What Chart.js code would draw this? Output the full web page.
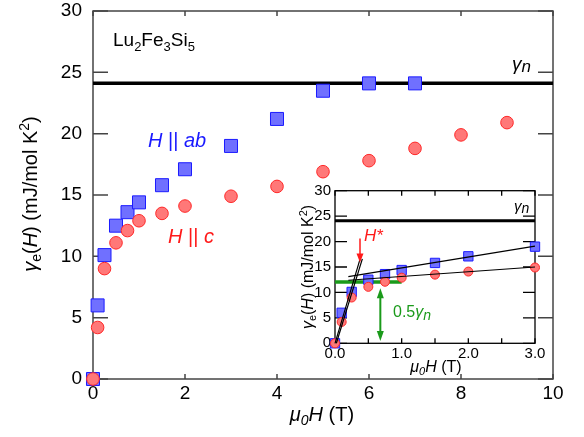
<!DOCTYPE html>
<html><head><meta charset="utf-8">
<script src="https://cdn.jsdelivr.net/npm/chart.js@4"></script>
<style>
html,body{margin:0;padding:0;background:#fff;}
#wrap{position:relative;width:584px;height:437px;overflow:hidden;}
canvas{position:absolute;}
</style>
</head><body>
<div id="wrap">
<canvas id="main" width="584" height="437" style="left:0;top:0"></canvas>
<canvas id="inset" width="280" height="215" style="left:275px;top:168px"></canvas>
</div>
<script>
// ---------- data ----------
const fieldAB = [0, 0.1, 0.25, 0.5, 0.75, 1, 1.5, 2, 3, 4, 5, 6, 7];
const gammaAB = [0, 6.0, 10.1, 12.5, 13.6, 14.4, 15.8, 17.1, 19.0, 21.2, 23.5, 24.1, 24.1];
const fieldC  = [0, 0.1, 0.25, 0.5, 0.75, 1, 1.5, 2, 3, 4, 5, 6, 7, 8, 9];
const gammaC  = [0, 4.2, 9.0, 11.1, 12.1, 12.9, 13.5, 14.1, 14.9, 15.7, 16.9, 17.8, 18.8, 19.9, 20.9];
const gammaN = 24.1;
const mainXTicks = [0, 2, 4, 6, 8, 10];
const mainYTicks = [0, 5, 10, 15, 20, 25, 30];
const insetXMax = 3;
const insetXTicks = [0, 1, 2, 3];
const insetXMinorTicks = [0, 0.5, 1, 1.5, 2, 2.5, 3];
const insetYTicks = [0, 5, 10, 15, 20, 25, 30];
const fitABLow  = [[0, 0], [0.39, 17.2]];
const fitCLow   = [[0.02, 0], [0.41, 16.6]];
const fitABHigh = [[0.2, 13.1], [3, 19.1]];
const fitCHigh  = [[0.2, 12.4], [3, 15.0]];
const halfGammaLine = [[0, 12.05], [1, 12.05]];
const hStarArrow = [[0.375, 20.6], [0.375, 15.9]];
const halfArrow  = [[0.68, 10.8], [0.68, 0.45]];

// ---------- helpers ----------
const FAM = '"Liberation Sans", Arial, sans-serif';
const BLUE_FILL = 'rgba(112,112,255,1)', BLUE_LINE = '#1c1cff';
const RED_FILL = '#ff7878', RED_LINE = '#ff2828';
const pts = (xs, ys) => xs.map((x, i) => ({x, y: ys[i]}));
const seg = a => a.map(p => ({x: p[0], y: p[1]}));

function richText(ctx, segs, x, y, align) {
  let w = 0;
  segs.forEach(s => { ctx.font = (s.italic ? 'italic ' : '') + s.size + 'px ' + FAM; s.w = ctx.measureText(s.t).width; w += s.w; });
  let cx = align === 'center' ? x - w / 2 : (align === 'right' ? x - w : x);
  ctx.textBaseline = 'alphabetic'; ctx.textAlign = 'left';
  segs.forEach(s => {
    ctx.font = (s.italic ? 'italic ' : '') + s.size + 'px ' + FAM;
    ctx.fillStyle = s.color || '#000';
    ctx.fillText(s.t, cx, y + (s.dy || 0));
    cx += s.w;
  });
}

function frameTicks(chart, xs, ys, xLen, yLen, color, lw) {
  const {ctx, chartArea: a, scales: {x, y}} = chart;
  ctx.save();
  ctx.strokeStyle = color; ctx.lineWidth = lw;
  ctx.beginPath();
  xs.forEach(v => { const p = x.getPixelForValue(v);
    ctx.moveTo(p, a.bottom); ctx.lineTo(p, a.bottom - xLen);
    ctx.moveTo(p, a.top); ctx.lineTo(p, a.top + xLen); });
  ys.forEach(v => { const p = y.getPixelForValue(v);
    ctx.moveTo(a.left, p); ctx.lineTo(a.left + yLen, p);
    ctx.moveTo(a.right, p); ctx.lineTo(a.right - yLen, p); });
  ctx.stroke();
  ctx.strokeRect(a.left, a.top, a.right - a.left, a.bottom - a.top);
  ctx.restore();
}

function arrow(ctx, x1, y1, x2, y2, color, lw, hw, hl, both) {
  ctx.save();
  ctx.strokeStyle = color; ctx.fillStyle = color; ctx.lineWidth = lw;
  const dir = Math.sign(y2 - y1);
  ctx.beginPath();
  ctx.moveTo(x1, y1 + (both ? dir * hl * 0.8 : 0));
  ctx.lineTo(x2, y2 - dir * hl * 0.8);
  ctx.stroke();
  const head = (x, y, d) => { ctx.beginPath(); ctx.moveTo(x, y); ctx.lineTo(x - hw / 2, y - d * hl); ctx.lineTo(x + hw / 2, y - d * hl); ctx.closePath(); ctx.fill(); };
  head(x2, y2, dir);
  if (both) head(x1, y1, -dir);
  ctx.restore();
}

const baseScale = (min, max, ticksArr, size, pad, fit, isX) => ({
  type: 'linear', min, max,
  afterBuildTicks(s) { s.ticks = ticksArr.map(v => ({value: v})); },
  afterFit(s) {
    if (isX) { s.height = fit; s.paddingLeft = 0; s.paddingRight = 0; }
    else { s.width = fit; s.paddingTop = 0; s.paddingBottom = 0; }
  },
  grid: {display: false, drawTicks: false},
  border: {display: false},
  ticks: {font: {family: FAM, size, lineHeight: 1}, color: '#000', padding: pad, maxRotation: 0, autoSkip: false}
});

// ---------- main chart ----------
const mainDecor = {
  id: 'mainDecor',
  beforeDatasetsDraw(chart) {
    frameTicks(chart, mainXTicks, mainYTicks, 5, 15, '#444', 1.5);
  },
  afterDraw(chart) {
    const ctx = chart.ctx;
    ctx.save();
    richText(ctx, [{t: 'μ', size: 20, italic: true}, {t: '0', size: 14, italic: true, dy: 4},
      {t: 'H', size: 20, italic: true}, {t: ' (T)', size: 20}], 322, 421, 'center');
    ctx.translate(37, 194); ctx.rotate(-Math.PI / 2);
    richText(ctx, [{t: 'γ', size: 20, italic: true}, {t: 'e', size: 14, dy: 4},
      {t: '(', size: 20}, {t: 'H', size: 20, italic: true}, {t: ') (mJ/mol K', size: 20},
      {t: '2', size: 14, dy: -8}, {t: ')', size: 20}], 0, 0, 'center');
    ctx.restore();
    ctx.save();
    richText(ctx, [{t: 'Lu', size: 19}, {t: '2', size: 13, dy: 5}, {t: 'Fe', size: 19},
      {t: '3', size: 13, dy: 5}, {t: 'Si', size: 19}, {t: '5', size: 13, dy: 5}], 113, 46, 'left');
    richText(ctx, [{t: 'γ', size: 19, italic: true}, {t: 'n', size: 17, italic: true, dy: 2}], 512, 70, 'left');
    richText(ctx, [{t: 'H', size: 20, italic: true, color: '#1a1aff'}, {t: ' || ', size: 20, color: '#1a1aff'},
      {t: 'ab', size: 20, italic: true, color: '#1a1aff'}], 148, 147, 'left');
    richText(ctx, [{t: 'H', size: 20, italic: true, color: '#ff1a1a'}, {t: ' || ', size: 20, color: '#ff1a1a'},
      {t: 'c', size: 20, italic: true, color: '#ff1a1a'}], 168, 243, 'left');
    ctx.restore();
  }
};

new Chart(document.getElementById('main'), {
  type: 'scatter',
  data: {datasets: [
    {data: pts(fieldC, gammaC), pointStyle: 'circle', pointRadius: 6.3, borderWidth: 1,
     backgroundColor: RED_FILL, borderColor: RED_LINE, order: 0, clip: false},
    {data: pts(fieldAB, gammaAB), pointStyle: 'rect', pointRadius: 9.2, borderWidth: 1,
     backgroundColor: BLUE_FILL, borderColor: BLUE_LINE, order: 1, clip: false},
    {data: seg([[0, gammaN], [10, gammaN]]), showLine: true, pointRadius: 0, borderColor: '#000', borderWidth: 3.5, order: 2}
  ]},
  options: {
    responsive: false, animation: false, events: [],
    plugins: {legend: {display: false}, tooltip: {enabled: false}},
    layout: {padding: {top: 11, right: 31, left: 0, bottom: 0}},
    scales: {
      x: baseScale(0, 10, mainXTicks, 19, 5, 58, true),
      y: baseScale(0, 30, mainYTicks, 19, 11, 93, false)
    }
  },
  plugins: [mainDecor]
});

// ---------- inset chart ----------
const insetDecor = {
  id: 'insetDecor',
  beforeDatasetsDraw(chart) {
    frameTicks(chart, insetXMinorTicks, insetYTicks, 5, 12, '#000', 1.3);
  },
  afterDatasetsDraw(chart) {
    const {ctx, scales: {x, y}} = chart;
    arrow(ctx, x.getPixelForValue(hStarArrow[0][0]), y.getPixelForValue(hStarArrow[0][1]),
      x.getPixelForValue(hStarArrow[1][0]), y.getPixelForValue(hStarArrow[1][1]), '#ff1a1a', 1.5, 7, 9, false);
    arrow(ctx, x.getPixelForValue(halfArrow[0][0]), y.getPixelForValue(halfArrow[0][1]),
      x.getPixelForValue(halfArrow[1][0]), y.getPixelForValue(halfArrow[1][1]), '#1a9a1a', 2, 7, 10, true);
  },
  afterDraw(chart) {
    const ctx = chart.ctx;
    ctx.save();
    richText(ctx, [{t: 'μ', size: 16, italic: true}, {t: '0', size: 11, italic: true, dy: 3},
      {t: 'H', size: 16, italic: true}, {t: ' (T)', size: 16}], 436 - 275, 372 - 168, 'center');
    richText(ctx, [{t: 'γ', size: 15, italic: true}, {t: 'n', size: 14, italic: true, dy: 2}], 514 - 275, 211 - 168, 'left');
    richText(ctx, [{t: 'H*', size: 17, italic: true, color: '#ff1a1a'}], 364 - 275, 241 - 168, 'left');
    richText(ctx, [{t: '0.5', size: 16, color: '#1a9a1a'}, {t: 'γ', size: 16, italic: true, color: '#1a9a1a'},
      {t: 'n', size: 14, italic: true, color: '#1a9a1a', dy: 3}], 393 - 275, 317 - 168, 'left');
    ctx.translate(313 - 275, 267 - 168); ctx.rotate(-Math.PI / 2);
    richText(ctx, [{t: 'γ', size: 16, italic: true}, {t: 'e', size: 11, dy: 3},
      {t: '(', size: 16}, {t: 'H', size: 16, italic: true}, {t: ') (mJ/mol K', size: 16},
      {t: '2', size: 11, dy: -6}, {t: ')', size: 16}], 0, 0, 'center');
    ctx.restore();
  }
};

const insetAB = fieldAB.map((x, i) => ({x, y: gammaAB[i]})).filter(p => p.x <= insetXMax);
const insetC = fieldC.map((x, i) => ({x, y: gammaC[i]})).filter(p => p.x <= insetXMax);
const fitLine = (a, o) => ({data: seg(a), showLine: true, pointRadius: 0, borderColor: '#000', borderWidth: 1.2, order: o, clip: false});

new Chart(document.getElementById('inset'), {
  type: 'scatter',
  data: {datasets: [
    fitLine(fitABLow, 0), fitLine(fitCLow, 0), fitLine(fitABHigh, 0), fitLine(fitCHigh, 0),
    {data: insetC, pointStyle: 'circle', pointRadius: 4.5, borderWidth: 1,
     backgroundColor: RED_FILL, borderColor: RED_LINE, order: 1, clip: false},
    {data: insetAB, pointStyle: 'rect', pointRadius: 6.6, borderWidth: 1,
     backgroundColor: BLUE_FILL, borderColor: BLUE_LINE, order: 2, clip: false},
    {data: seg(halfGammaLine), showLine: true, pointRadius: 0, borderColor: '#1a9a1a', borderWidth: 3.5, order: 3},
    {data: seg([[0, gammaN], [insetXMax, gammaN]]), showLine: true, pointRadius: 0, borderColor: '#000', borderWidth: 3, order: 4}
  ]},
  options: {
    responsive: false, animation: false, events: [],
    plugins: {legend: {display: false}, tooltip: {enabled: false}},
    layout: {padding: {top: 22.7, right: 20, left: 0, bottom: 0}},
    scales: {
      x: Object.assign(baseScale(0, insetXMax, insetXTicks, 15, 3, 39.7, true),
        {ticks: {font: {family: FAM, size: 15, lineHeight: 1}, color: '#000', padding: 3, maxRotation: 0, autoSkip: false,
          callback: v => v.toFixed(1)}}),
      y: baseScale(0, 30, insetYTicks, 15, 4, 60, false)
    }
  },
  plugins: [insetDecor]
});
</script>
</body></html>
